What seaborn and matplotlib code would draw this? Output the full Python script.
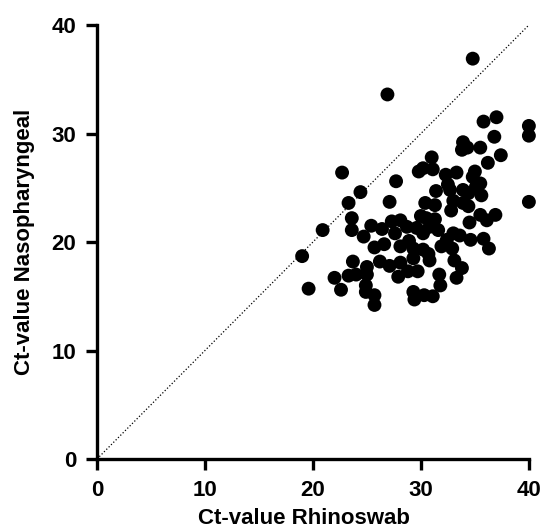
import pandas as pd
import seaborn as sns
import matplotlib.pyplot as plt

sns.set_style('ticks', {'axes.edgecolor': 'black', 'xtick.color': 'black',
                        'ytick.color': 'black', 'text.color': 'black',
                        'axes.labelcolor': 'black'})
plt.rcParams['font.family'] = ['Liberation Sans', 'DejaVu Sans']

rhinoswab = [
    34.8, 26.9, 40.0, 40.0, 40.0, 22.7, 19.0, 19.6, 20.9, 22.0, 22.6, 23.3,
    24.4, 23.6, 27.7, 27.1, 35.8, 37.0, 36.8, 33.9, 33.8, 34.3, 35.5, 37.4,
    36.2, 31.0, 30.2, 31.1, 29.8, 32.3, 33.3, 35.0, 34.8, 32.5, 35.5, 31.4,
    32.7, 33.9, 35.1, 34.4, 35.6, 30.4, 31.3, 33.0, 33.9, 34.4, 32.8, 35.5,
    36.1, 36.9, 34.5, 30.0, 30.5, 31.3, 27.3, 28.1, 28.7, 26.4, 25.4, 24.7,
    23.6, 27.6, 29.6, 30.2, 30.8, 31.6, 33.0, 33.6, 34.6, 35.8, 36.3, 25.7,
    26.6, 28.1, 28.9, 29.3, 30.2, 30.7, 31.9, 32.4, 32.9, 33.1, 33.8, 30.8,
    23.7, 25.0, 26.2, 27.1, 28.1, 28.8, 29.7, 27.9, 23.3, 24.0, 25.0, 24.9,
    24.9, 25.7, 25.7, 29.3, 29.4, 30.3, 31.1, 31.7, 31.8, 33.3, 29.3,
]
nasopharyngeal = [
    36.9, 33.6, 30.7, 29.8, 23.7, 26.4, 18.7, 15.7, 21.1, 16.7, 15.6, 23.6,
    24.6, 22.2, 25.6, 23.7, 31.1, 31.5, 29.7, 29.2, 28.5, 28.7, 28.7, 28.0,
    27.3, 27.8, 26.8, 26.7, 26.5, 26.2, 26.4, 26.5, 26.0, 25.3, 25.4, 24.7,
    24.8, 24.8, 25.1, 24.5, 24.3, 23.6, 23.4, 23.8, 23.6, 23.3, 22.9, 22.5,
    22.0, 22.5, 21.8, 22.4, 22.2, 22.1, 21.9, 22.0, 21.4, 21.2, 21.5, 20.5,
    21.1, 20.8, 21.3, 20.8, 21.4, 21.1, 20.8, 20.6, 20.2, 20.3, 19.4, 19.5,
    19.8, 19.6, 20.1, 19.4, 19.3, 18.9, 19.6, 20.2, 19.4, 18.3, 17.6, 18.3,
    18.2, 17.7, 18.2, 17.8, 18.1, 17.3, 17.3, 16.8, 16.9, 17.0, 17.0, 16.0,
    15.4, 15.1, 14.2, 15.4, 14.7, 15.1, 15.0, 17.0, 16.0, 16.7, 18.5,
]
axis_ticks = [0, 10, 20, 30, 40]

df = pd.DataFrame({'Rhinoswab': rhinoswab, 'Nasopharyngeal': nasopharyngeal})

fig = plt.figure(figsize=(5.43, 5.29), dpi=100)
ax = fig.add_axes([0.1786, 0.1323, 0.7954, 0.8204])

# line of identity
sns.lineplot(x=[0, 40], y=[0, 40], color='black', linestyle=':', linewidth=0.9, ax=ax)
sns.scatterplot(data=df, x='Rhinoswab', y='Nasopharyngeal', color='black',
                s=100, edgecolor='none', clip_on=False, zorder=3, ax=ax)

ax.set_xlim(0, 40)
ax.set_ylim(0, 40)
ax.set_xticks(axis_ticks)
ax.set_yticks(axis_ticks)
sns.despine(ax=ax)
for side in ['left', 'bottom']:
    ax.spines[side].set_linewidth(2.4)
ax.tick_params(width=2.4, length=8, labelsize=16, pad=7)
for lab in ax.get_xticklabels() + ax.get_yticklabels():
    lab.set_fontweight('bold')

ax.set_xlabel('Ct-value Rhinoswab', fontsize=16, fontweight='bold')
ax.set_ylabel('Ct-value Nasopharyngeal', fontsize=16, fontweight='bold', labelpad=12)
ax.xaxis.set_label_coords(0.48, -0.112)

fig.savefig('out.png', dpi=100)
